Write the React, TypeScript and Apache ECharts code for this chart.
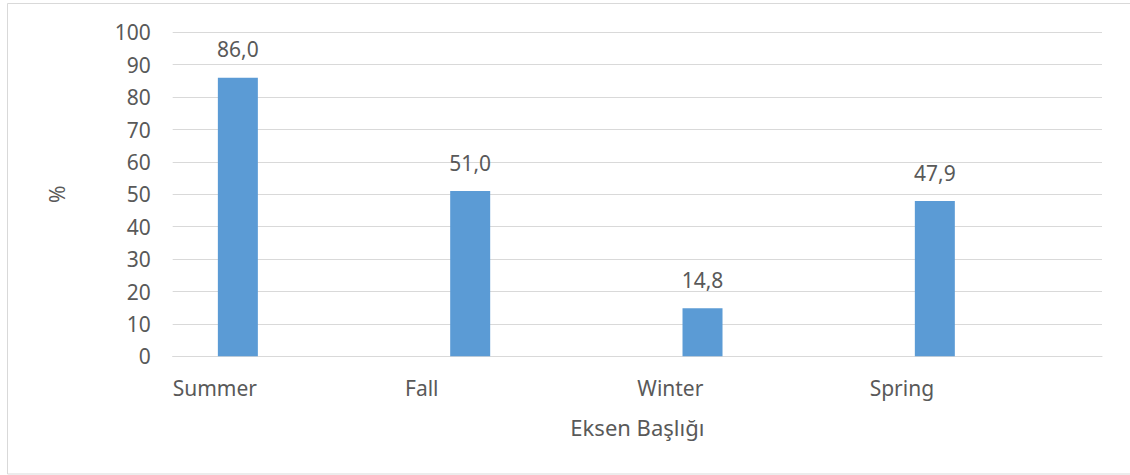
import React, { useEffect, useRef } from "react";
import * as echarts from "echarts";

// Seasonal percentages
const seasons = ["Summer", "Fall", "Winter", "Spring"];
const percentValues = [86.0, 51.0, 14.8, 47.9];
// Empty companion series that keeps the bars in the left part of each slot
const spacerValues = [null, null, null, null];

const yMin = 0;
const yMax = 100;
const yStep = 10;

const xTitle = "Eksen Başlığı";
const yTitle = "%";

const TEXT = "#595959";
const GRID_LINE = "#d9d9d9";
const BAR = "#5b9bd5";
const FONT = "Noto Sans";
const FS = 21;

export default function App() {
  const ref = useRef<HTMLDivElement>(null);

  useEffect(() => {
    if (!ref.current) return;
    const chart = echarts.init(ref.current, null, { renderer: "svg" });

    chart.setOption({
      animation: false,
      backgroundColor: "#ffffff",
      textStyle: { fontFamily: FONT, color: TEXT },
      grid: { left: 172.7, right: 28, top: 32.3, bottom: 118.7, containLabel: false },
      graphic: [
        {
          type: "rect",
          shape: { x: 7.5, y: 3.5, width: 1200, height: 470.5 },
          style: { fill: "none", stroke: GRID_LINE, lineWidth: 1 },
          silent: true,
          z: -1,
        },
      ],
      xAxis: [
        {
          type: "category",
          data: seasons,
          boundaryGap: true,
          position: "bottom",
          axisLine: { show: true, lineStyle: { color: GRID_LINE, width: 1 } },
          axisTick: { show: false },
          axisLabel: { show: false },
          splitLine: { show: false },
          name: xTitle,
          nameLocation: "middle",
          nameGap: 60,
          nameTextStyle: { fontSize: 22, color: TEXT, fontFamily: FONT },
        },
        {
          // label-only axis: category names start at the left edge of each slot
          type: "category",
          data: [...seasons, ""],
          boundaryGap: false,
          position: "bottom",
          axisLine: { show: false },
          axisTick: { show: false },
          splitLine: { show: false },
          axisLabel: {
            interval: 0,
            align: "left",
            margin: 21,
            fontSize: FS,
            color: TEXT,
            fontFamily: FONT,
          },
        },
      ],
      yAxis: {
        type: "value",
        min: yMin,
        max: yMax,
        interval: yStep,
        axisLine: { show: false },
        axisTick: { show: false },
        axisLabel: { fontSize: FS, color: TEXT, margin: 22, fontFamily: FONT },
        splitLine: { show: true, lineStyle: { color: GRID_LINE, width: 1 } },
        name: yTitle,
        nameLocation: "middle",
        nameGap: 105,
        nameRotate: 90,
        nameTextStyle: { fontSize: FS, color: TEXT, fontFamily: FONT },
      },
      series: [
        {
          type: "bar",
          xAxisIndex: 0,
          data: percentValues,
          barWidth: 40,
          barGap: "155%",
          itemStyle: { color: BAR },
          label: {
            show: true,
            position: "top",
            distance: 18,
            fontSize: FS,
            color: TEXT,
            fontFamily: FONT,
            formatter: (p: any) => Number(p.value).toFixed(1).replace(".", ","),
          },
        },
        {
          type: "bar",
          xAxisIndex: 0,
          data: spacerValues,
          barWidth: 40,
          barGap: "155%",
          itemStyle: { color: BAR },
        },
      ],
    });

    return () => chart.dispose();
  }, []);

  return (
    <div
      ref={ref}
      style={{ position: "fixed", left: 0, top: 0, width: 1130, height: 475, background: "#fff" }}
    />
  );
}
